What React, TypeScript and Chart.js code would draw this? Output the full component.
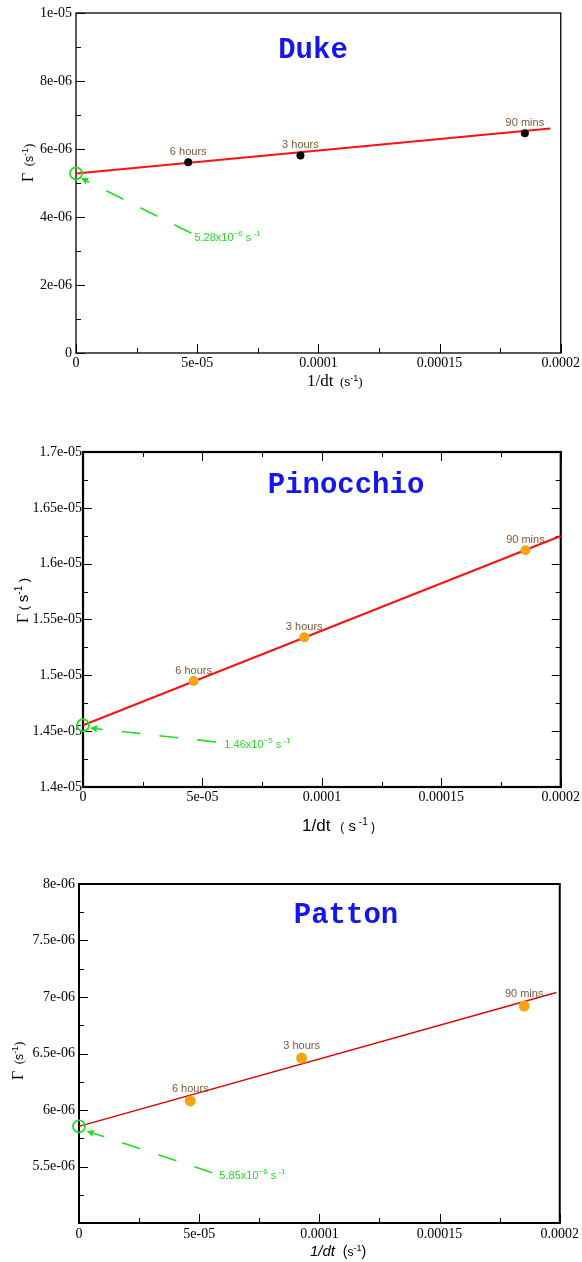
import React, { useEffect, useRef } from "react";
import { Chart, registerables } from "chart.js";

Chart.register(...registerables);

// ---------------- data ----------------
const timeLabels = ["6 hours", "3 hours", "90 mins"];
const inverseDt = [4.63e-5, 9.26e-5, 1.852e-4];

const dukeGamma = [5.61e-6, 5.81e-6, 6.46e-6];
const pinocchioGamma = [1.495e-5, 1.534e-5, 1.612e-5];
const pattonGamma = [6.08e-6, 6.46e-6, 6.92e-6];

const dukeFitX = [0, 1.957e-4];
const dukeFitY = [5.28e-6, 6.6e-6];
const pinocchioFitX = [0, 2.0e-4];
const pinocchioFitY = [1.4553e-5, 1.6248e-5];
const pattonFitX = [0, 1.986e-4];
const pattonFitY = [5.855e-6, 7.04e-6];

const dukeInterceptText = ["5.28", "\u22126"];
const pinocchioInterceptText = ["1.46", "\u22125"];
const pattonInterceptText = ["5.85", "\u22126"];

const xTickValues = [0, 5e-5, 1e-4, 1.5e-4, 2e-4];
const xTickLabels = ["0", "5e-05", "0.0001", "0.00015", "0.0002"];

const dukeYTickValues = [0, 2e-6, 4e-6, 6e-6, 8e-6, 1e-5];
const dukeYTickLabels = ["0", "2e-06", "4e-06", "6e-06", "8e-06", "1e-05"];
const pinocchioYTickValues = [1.4e-5, 1.45e-5, 1.5e-5, 1.55e-5, 1.6e-5, 1.65e-5, 1.7e-5];
const pinocchioYTickLabels = ["1.4e-05", "1.45e-05", "1.5e-05", "1.55e-05", "1.6e-05", "1.65e-05", "1.7e-05"];
const pattonYTickValues = [5e-6, 5.5e-6, 6e-6, 6.5e-6, 7e-6, 7.5e-6, 8e-6];
const pattonYTickLabels = ["", "5.5e-06", "6e-06", "6.5e-06", "7e-06", "7.5e-06", "8e-06"];

// ---------------- styles / layout ----------------
const SERIF = "'Liberation Serif', 'Times New Roman', serif";
const SANS = "'Liberation Sans', Arial, sans-serif";
const MONO = "'Liberation Mono', 'Courier New', monospace";
const GREEN = "#22dd22";
const LABEL_BROWN = "#7a5836";

type Run = { text: string; size: number; family: string; style?: string; dy?: number };

function runs(defs: Array<[string, number, string, string?, number?]>): Run[] {
  return defs.map(([text, size, family, style, dy]) => ({ text, size, family, style, dy }));
}

type Panel = {
  name: string;
  top: number;
  height: number;
  area: { left: number; right: number; top: number; bottom: number };
  yMin: number;
  yMax: number;
  yTicks: number[];
  yLabels: string[];
  gamma: number[];
  fitX: number[];
  fitY: number[];
  interceptText: string[];
  pointColor: string;
  pointRadius: number;
  lineColor: string;
  lineWidth: number;
  frameWidth: number;
  mirror: boolean;
  yPad: number;
  xPad: number;
  title: { x: number; y: number };
  yTitle: { x: number; y: number; runs: Run[] };
  xTitle: { x: number; y: number; runs: Run[] };
  labelOffset: number;
  annot: { textAt: [number, number]; tail: [number, number]; tip: [number, number] };
};

const panels: Panel[] = [
  {
    name: "Duke",
    top: 0,
    height: 400,
    area: { left: 76, right: 563, top: 13, bottom: 353 },
    yMin: 0,
    yMax: 1e-5,
    yTicks: dukeYTickValues,
    yLabels: dukeYTickLabels,
    gamma: dukeGamma,
    fitX: dukeFitX,
    fitY: dukeFitY,
    interceptText: dukeInterceptText,
    pointColor: "#000000",
    pointRadius: 4,
    lineColor: "#ff1010",
    lineWidth: 2,
    frameWidth: 1.3,
    mirror: false,
    yPad: 4,
    xPad: 2,
    title: { x: 313, y: 58 },
    yTitle: {
      x: 33,
      y: 182,
      runs: runs([
        ["\u0393", 16, SERIF],
        ["  (", 13, SERIF],
        ["s", 12, SANS],
        ["-1", 9, SANS, "", -5],
        [")", 13, SERIF],
      ]),
    },
    xTitle: {
      x: 307,
      y: 386,
      runs: runs([
        ["1/dt", 17, SERIF],
        ["  (", 13, SERIF],
        ["s", 12, SANS],
        ["-1", 9, SANS, "", -5],
        [")", 13, SERIF],
      ]),
    },
    labelOffset: 7,
    annot: { textAt: [4.887e-5, 3.303e-6], tail: [4.76e-5, 3.52e-6], tip: [2.05e-6, 5.147e-6] },
  },
  {
    name: "Pinocchio",
    top: 400,
    height: 440,
    area: { left: 83, right: 563, top: 52, bottom: 387 },
    yMin: 1.4e-5,
    yMax: 1.7e-5,
    yTicks: pinocchioYTickValues,
    yLabels: pinocchioYTickLabels,
    gamma: pinocchioGamma,
    fitX: pinocchioFitX,
    fitY: pinocchioFitY,
    interceptText: pinocchioInterceptText,
    pointColor: "#f7a414",
    pointRadius: 5,
    lineColor: "#ff1010",
    lineWidth: 2,
    frameWidth: 2.2,
    mirror: true,
    yPad: 1,
    xPad: 2,
    title: { x: 346, y: 93 },
    yTitle: {
      x: 28,
      y: 223,
      runs: runs([
        ["\u0393", 16, SERIF],
        [" ( ", 13, SANS],
        ["s", 15, SANS],
        ["-1", 10, SANS, "", -6],
        [" )", 13, SANS],
      ]),
    },
    xTitle: {
      x: 302,
      y: 431,
      runs: runs([
        ["1/dt", 17, SANS],
        ["   (", 12, SANS],
        [" s", 15, SANS],
        [" -1", 10, SANS, "", -6],
        [" )", 12, SANS],
      ]),
    },
    labelOffset: 7,
    annot: { textAt: [5.917e-5, 1.4349e-5], tail: [5.57e-5, 1.4403e-5], tip: [2.9e-6, 1.4528e-5] },
  },
  {
    name: "Patton",
    top: 840,
    height: 422,
    area: { left: 79, right: 562, top: 44, bottom: 383 },
    yMin: 5e-6,
    yMax: 8e-6,
    yTicks: pattonYTickValues,
    yLabels: pattonYTickLabels,
    gamma: pattonGamma,
    fitX: pattonFitX,
    fitY: pattonFitY,
    interceptText: pattonInterceptText,
    pointColor: "#f7a414",
    pointRadius: 5.5,
    lineColor: "#e00000",
    lineWidth: 1.5,
    frameWidth: 2,
    mirror: false,
    yPad: 4,
    xPad: 3,
    title: { x: 346, y: 83 },
    yTitle: {
      x: 23,
      y: 240,
      runs: runs([
        ["\u0393", 16, SERIF],
        ["  (", 13, SERIF],
        ["s", 12, SANS],
        ["-1", 9, SANS, "", -5],
        [")", 13, SERIF],
      ]),
    },
    xTitle: {
      x: 310,
      y: 416,
      runs: runs([
        ["1/dt", 15, SANS, "italic"],
        ["  (", 14, SANS],
        ["s", 12, SANS],
        ["-1", 9, SANS, "", -5],
        [")", 14, SANS],
      ]),
    },
    labelOffset: 9,
    annot: { textAt: [5.839e-5, 5.387e-6], tail: [5.549e-5, 5.445e-6], tip: [3.19e-6, 5.814e-6] },
  },
];

function drawRuns(ctx: CanvasRenderingContext2D, x: number, y: number, rs: Run[], color: string) {
  let cx = x;
  ctx.fillStyle = color;
  ctx.textAlign = "left";
  ctx.textBaseline = "alphabetic";
  for (const r of rs) {
    ctx.font = `${r.style || ""} ${r.size}px ${r.family}`;
    ctx.fillText(r.text, cx, y + (r.dy || 0));
    cx += ctx.measureText(r.text).width;
  }
}

function makeDeco(p: Panel) {
  return {
    id: "deco_" + p.name,
    beforeDatasetsDraw(chart: any) {
      const ctx: CanvasRenderingContext2D = chart.ctx;
      const a = chart.chartArea;
      const xs = chart.scales.x;
      const ys = chart.scales.y;
      ctx.save();
      ctx.strokeStyle = "#000";
      ctx.lineWidth = 1;
      const major = 9;
      const minor = 5;
      const xMinor: number[] = [];
      for (let i = 0; i < xTickValues.length - 1; i++) xMinor.push((xTickValues[i] + xTickValues[i + 1]) / 2);
      const yMinor: number[] = [];
      for (let i = 0; i < p.yTicks.length - 1; i++) yMinor.push((p.yTicks[i] + p.yTicks[i + 1]) / 2);
      ctx.beginPath();
      const xt = (v: number, len: number) => {
        const px = Math.round(xs.getPixelForValue(v)) + 0.5;
        ctx.moveTo(px, a.bottom);
        ctx.lineTo(px, a.bottom - len);
        if (p.mirror) {
          ctx.moveTo(px, a.top);
          ctx.lineTo(px, a.top + len);
        }
      };
      const yt = (v: number, len: number) => {
        const py = Math.round(ys.getPixelForValue(v)) + 0.5;
        ctx.moveTo(a.left, py);
        ctx.lineTo(a.left + len, py);
        if (p.mirror) {
          ctx.moveTo(a.right, py);
          ctx.lineTo(a.right - len, py);
        }
      };
      xTickValues.forEach((v) => xt(v, major));
      xMinor.forEach((v) => xt(v, minor));
      p.yTicks.forEach((v) => yt(v, major));
      yMinor.forEach((v) => yt(v, minor));
      ctx.stroke();
      ctx.lineWidth = p.frameWidth;
      ctx.strokeRect(a.left, a.top, a.right - a.left, a.bottom - a.top);
      ctx.restore();
    },
    afterDatasetsDraw(chart: any) {
      const ctx: CanvasRenderingContext2D = chart.ctx;
      const xs = chart.scales.x;
      const ys = chart.scales.y;
      ctx.save();
      // title
      ctx.font = `bold 29px ${MONO}`;
      ctx.fillStyle = "#1515ee";
      ctx.textAlign = "center";
      ctx.textBaseline = "alphabetic";
      ctx.fillText(p.name, p.title.x, p.title.y);
      // point labels
      const meta = chart.getDatasetMeta(0);
      ctx.font = `11px ${SANS}`;
      ctx.fillStyle = LABEL_BROWN;
      meta.data.forEach((el: any, i: number) => {
        ctx.fillText(timeLabels[i], el.x, el.y - p.labelOffset);
      });
      // dashed arrow
      const tx = xs.getPixelForValue(p.annot.tail[0]);
      const ty = ys.getPixelForValue(p.annot.tail[1]);
      const hx = xs.getPixelForValue(p.annot.tip[0]);
      const hy = ys.getPixelForValue(p.annot.tip[1]);
      const ang = Math.atan2(hy - ty, hx - tx);
      const headLen = 7;
      ctx.strokeStyle = GREEN;
      ctx.fillStyle = GREEN;
      ctx.lineWidth = 1.6;
      ctx.setLineDash([19, 19]);
      ctx.beginPath();
      ctx.moveTo(tx, ty);
      ctx.lineTo(hx - Math.cos(ang) * headLen, hy - Math.sin(ang) * headLen);
      ctx.stroke();
      ctx.setLineDash([]);
      ctx.beginPath();
      ctx.moveTo(hx, hy);
      ctx.lineTo(hx - Math.cos(ang) * headLen + Math.sin(ang) * 3.5, hy - Math.sin(ang) * headLen - Math.cos(ang) * 3.5);
      ctx.lineTo(hx - Math.cos(ang) * headLen - Math.sin(ang) * 3.5, hy - Math.sin(ang) * headLen + Math.cos(ang) * 3.5);
      ctx.closePath();
      ctx.fill();
      // annotation text
      const lx = xs.getPixelForValue(p.annot.textAt[0]);
      const ly = ys.getPixelForValue(p.annot.textAt[1]);
      drawRuns(
        ctx,
        lx,
        ly,
        runs([
          [p.interceptText[0] + "x10", 11, SANS],
          [p.interceptText[1], 8, SANS, "", -5],
          [" s", 11, SANS],
          [" -1", 8, SANS, "", -5],
        ]),
        GREEN
      );
      // axis titles
      drawRuns(ctx, p.xTitle.x, p.xTitle.y, p.xTitle.runs, "#000");
      ctx.translate(p.yTitle.x, p.yTitle.y);
      ctx.rotate(-Math.PI / 2);
      drawRuns(ctx, 0, 0, p.yTitle.runs, "#000");
      ctx.restore();
    },
  };
}

function PanelChart({ p }: { p: Panel }) {
  const ref = useRef<HTMLCanvasElement | null>(null);
  useEffect(() => {
    if (!ref.current) return;
    const W = 582;
    const padR = W - p.area.right;
    const chart = new Chart(ref.current, {
      type: "scatter",
      data: {
        datasets: [
          {
            data: inverseDt.map((x, i) => ({ x, y: p.gamma[i] })),
            pointRadius: p.pointRadius,
            pointBackgroundColor: p.pointColor,
            pointBorderWidth: 0,
            borderWidth: 0,
            showLine: false,
            clip: false,
          } as any,
          {
            data: [{ x: 0, y: p.fitY[0] }],
            pointRadius: 6,
            pointBorderWidth: 1.8,
            pointBorderColor: GREEN,
            pointBackgroundColor: "rgba(0,0,0,0)",
            showLine: false,
            clip: false,
          } as any,
          {
            data: p.fitX.map((x, i) => ({ x, y: p.fitY[i] })),
            showLine: true,
            borderColor: p.lineColor,
            borderWidth: p.lineWidth,
            pointRadius: 0,
            clip: false,
          } as any,
        ],
      },
      options: {
        responsive: false,
        animation: false,
        events: [],
        layout: { padding: { left: 0, right: padR, top: p.area.top, bottom: 0 } },
        plugins: { legend: { display: false }, tooltip: { enabled: false }, title: { display: false } },
        scales: {
          x: {
            type: "linear",
            min: 0,
            max: 2e-4,
            afterBuildTicks: (s: any) => {
              s.ticks = xTickValues.map((value) => ({ value }));
            },
            afterFit: (s: any) => {
              s.height = p.height - p.area.bottom;
            },
            grid: { display: false, drawTicks: false },
            border: { display: false },
            ticks: {
              autoSkip: false,
              maxRotation: 0,
              padding: p.xPad,
              color: "#000",
              font: { family: SERIF, size: 14 },
              callback: (_v: any, i: number) => xTickLabels[i],
            },
          },
          y: {
            type: "linear",
            min: p.yMin,
            max: p.yMax,
            afterBuildTicks: (s: any) => {
              s.ticks = p.yTicks.map((value) => ({ value }));
            },
            afterFit: (s: any) => {
              s.width = p.area.left;
            },
            grid: { display: false, drawTicks: false },
            border: { display: false },
            ticks: {
              autoSkip: false,
              padding: p.yPad,
              color: "#000",
              font: { family: SERIF, size: 14 },
              callback: (_v: any, i: number) => p.yLabels[i],
            },
          },
        },
      } as any,
      plugins: [makeDeco(p)],
    });
    return () => chart.destroy();
  }, [p]);
  return (
    <canvas
      ref={ref}
      width={582}
      height={p.height}
      style={{ position: "absolute", left: 0, top: p.top, width: 582, height: p.height }}
    />
  );
}

export default function App() {
  return (
    <div style={{ position: "absolute", left: 0, top: 0, width: 582, height: 1262, background: "#fff" }}>
      {panels.map((p) => (
        <PanelChart key={p.name} p={p} />
      ))}
    </div>
  );
}
